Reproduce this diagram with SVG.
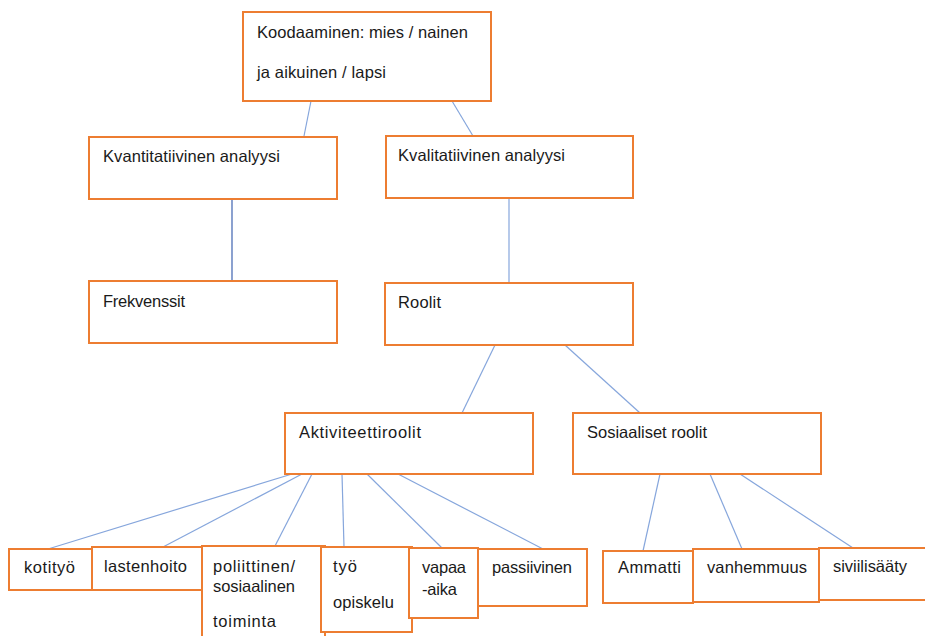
<svg xmlns="http://www.w3.org/2000/svg" width="925" height="636" viewBox="0 0 925 636">
<style>
.box{fill:#fff;stroke:#ed7d31;stroke-width:2}
.t{font-family:"Liberation Sans",Arial,sans-serif;font-size:16.5px;fill:#1a1a1a}
.c{stroke:#86a6dc;stroke-width:1.2;fill:none}
.d{stroke:#3f63b0;stroke-width:1.2;fill:none}
</style>
<rect width="925" height="636" fill="#fff"/>
<g id="connectors">
<line class="c" x1="311" y1="101" x2="304" y2="136"/>
<line class="c" x1="452" y1="101" x2="473" y2="136"/>
<line class="d" x1="232" y1="199" x2="232" y2="281"/>
<line class="c" x1="509" y1="198" x2="509" y2="283"/>
<line class="c" x1="495" y1="345" x2="462" y2="413"/>
<line class="c" x1="565" y1="345" x2="640" y2="413"/>
<line class="c" x1="292" y1="474" x2="48" y2="549"/>
<line class="c" x1="302" y1="474" x2="163" y2="547"/>
<line class="c" x1="312" y1="474" x2="275" y2="546"/>
<line class="c" x1="342" y1="474" x2="344" y2="547"/>
<line class="c" x1="367" y1="474" x2="442" y2="548"/>
<line class="c" x1="398" y1="474" x2="543" y2="549"/>
<line class="c" x1="660" y1="474" x2="643" y2="551"/>
<line class="c" x1="710" y1="474" x2="742" y2="549"/>
<line class="c" x1="740" y1="474" x2="853" y2="548"/>
</g>
<g id="koodaaminen"><rect class="box" x="243" y="12" width="248" height="89"/><text class="t" x="257" y="38" textLength="211">Koodaaminen: mies / nainen</text><text class="t" x="257" y="78" textLength="129">ja aikuinen / lapsi</text></g>
<g id="kvantitatiivinen"><rect class="box" x="89" y="137" width="248" height="62"/><text class="t" x="103" y="162" textLength="177">Kvantitatiivinen analyysi</text></g>
<g id="kvalitatiivinen"><rect class="box" x="386" y="136" width="247" height="62"/><text class="t" x="398" y="161" textLength="167">Kvalitatiivinen analyysi</text></g>
<g id="frekvenssit"><rect class="box" x="89" y="281" width="248" height="62"/><text class="t" x="103" y="307" textLength="82">Frekvenssit</text></g>
<g id="roolit"><rect class="box" x="385" y="283" width="248" height="62"/><text class="t" x="398" y="308" textLength="43">Roolit</text></g>
<g id="aktiviteettiroolit"><rect class="box" x="285" y="413" width="248" height="61"/><text class="t" x="299" y="438" textLength="122">Aktiviteettiroolit</text></g>
<g id="sosiaaliset"><rect class="box" x="573" y="413" width="248" height="61"/><text class="t" x="587" y="438" textLength="120">Sosiaaliset roolit</text></g>
<g id="kotityo"><rect class="box" x="9" y="549" width="83" height="41"/><text class="t" x="24" y="573" textLength="51">kotityö</text></g>
<g id="lastenhoito"><rect class="box" x="92" y="547" width="115" height="43"/><text class="t" x="104" y="572" textLength="83">lastenhoito</text></g>
<g id="poliittinen"><rect class="box" x="202" y="546" width="123" height="100"/><text class="t" x="213" y="572" textLength="82">poliittinen/</text><text class="t" x="213" y="592" textLength="82">sosiaalinen</text><text class="t" x="213" y="627" textLength="63">toiminta</text></g>
<g id="tyo"><rect class="box" x="321" y="547" width="91" height="85"/><text class="t" x="333" y="572" textLength="24">työ</text><text class="t" x="333" y="608" textLength="61">opiskelu</text></g>
<g id="vapaa-aika"><rect class="box" x="409" y="548" width="69" height="70"/><text class="t" x="422" y="573" textLength="44">vapaa</text><text class="t" x="422" y="595" textLength="35">-aika</text></g>
<g id="passiivinen"><rect class="box" x="478" y="549" width="109" height="57"/><text class="t" x="492" y="573" textLength="80">passiivinen</text></g>
<g id="ammatti"><rect class="box" x="603" y="551" width="90" height="52"/><text class="t" x="618" y="573" textLength="63">Ammatti</text></g>
<g id="vanhemmuus"><rect class="box" x="693" y="549" width="126" height="53"/><text class="t" x="707" y="573" textLength="100">vanhemmuus</text></g>
<g id="siviilisaaty"><rect class="box" x="819" y="548" width="115" height="52"/><text class="t" x="833" y="572" textLength="74">siviilisääty</text></g>
</svg>
